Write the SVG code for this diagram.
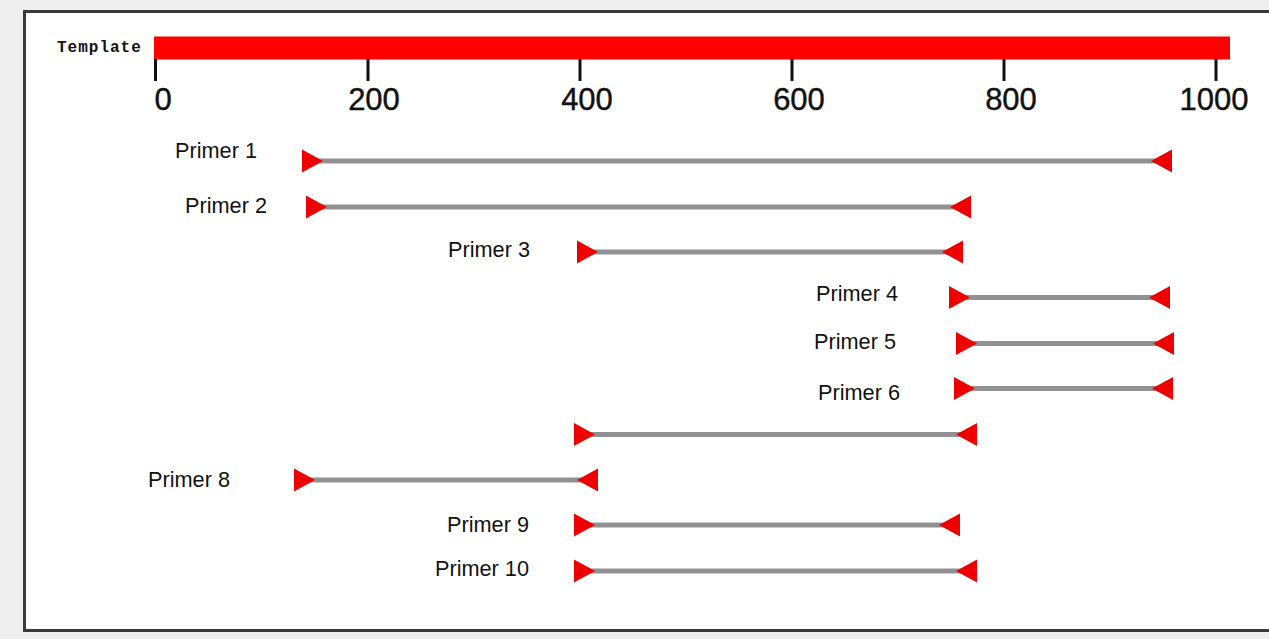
<svg xmlns="http://www.w3.org/2000/svg" xmlns:xlink="http://www.w3.org/1999/xlink" width="1269" height="639" viewBox="0 0 1269 639">
<defs>
<style>
.lbl{font-family:"Liberation Sans",Arial,sans-serif;font-size:21.7px;fill:#111;text-anchor:end}
.tick{font-family:"Liberation Sans",Arial,sans-serif;font-size:31px;fill:#111;text-anchor:middle;stroke:#111;stroke-width:0.4}
.tl{stroke:#111;stroke-width:3}
.pl{stroke:#919191;stroke-width:5}
.tri{fill:#ee0000}
</style>
<polygon id="fw" class="tri" points="0,-11.5 0,11.5 21,0"/>
<polygon id="rv" class="tri" points="0,-11.5 0,11.5 -21,0"/>
</defs>
<rect x="0" y="0" width="1269" height="639" fill="#efefef"/>
<rect x="24.5" y="11.5" width="1270" height="619" fill="#ffffff" stroke="#3a3a3a" stroke-width="3"/>
<g id="template">
<text x="57" y="52" font-family="Liberation Mono,monospace" font-size="16" font-weight="bold" letter-spacing="1" fill="#111">Template</text>
<rect x="154" y="36.5" width="1076" height="23" fill="#ff0000"/>
</g>
<g id="axis">
<line class="tl" x1="155.5" y1="59" x2="155.5" y2="81"/>
<line class="tl" x1="368" y1="59" x2="368" y2="81"/>
<line class="tl" x1="580" y1="59" x2="580" y2="81"/>
<line class="tl" x1="792" y1="59" x2="792" y2="81"/>
<line class="tl" x1="1004" y1="59" x2="1004" y2="81"/>
<line class="tl" x1="1216" y1="59" x2="1216" y2="81"/>
<text class="tick" x="163" y="110">0</text>
<text class="tick" x="374" y="110">200</text>
<text class="tick" x="587" y="110">400</text>
<text class="tick" x="799" y="110">600</text>
<text class="tick" x="1011" y="110">800</text>
<text class="tick" x="1214" y="110">1000</text>
</g>
<g id="connectors">
<line class="pl" x1="318" y1="161" x2="1156" y2="161"/>
<line class="pl" x1="322" y1="207" x2="955" y2="207"/>
<line class="pl" x1="593" y1="252" x2="947" y2="252"/>
<line class="pl" x1="965" y1="297.5" x2="1154" y2="297.5"/>
<line class="pl" x1="972" y1="343.5" x2="1158" y2="343.5"/>
<line class="pl" x1="970" y1="388.5" x2="1157" y2="388.5"/>
<line class="pl" x1="590" y1="434.5" x2="961" y2="434.5"/>
<line class="pl" x1="310" y1="480" x2="582" y2="480"/>
<line class="pl" x1="590" y1="525" x2="944" y2="525"/>
<line class="pl" x1="590" y1="571" x2="961" y2="571"/>
</g>
<g id="primer1"><text class="lbl" x="257" y="158">Primer 1</text><use xlink:href="#fw" x="302" y="161"/><use xlink:href="#rv" x="1172" y="161"/></g>
<g id="primer2"><text class="lbl" x="267" y="213">Primer 2</text><use xlink:href="#fw" x="306" y="207"/><use xlink:href="#rv" x="971" y="207"/></g>
<g id="primer3"><text class="lbl" x="530" y="257">Primer 3</text><use xlink:href="#fw" x="577" y="252"/><use xlink:href="#rv" x="963" y="252"/></g>
<g id="primer4"><text class="lbl" x="898" y="301">Primer 4</text><use xlink:href="#fw" x="949" y="297.5"/><use xlink:href="#rv" x="1170" y="297.5"/></g>
<g id="primer5"><text class="lbl" x="896" y="349">Primer 5</text><use xlink:href="#fw" x="956" y="343.5"/><use xlink:href="#rv" x="1174" y="343.5"/></g>
<g id="primer6"><text class="lbl" x="900" y="400">Primer 6</text><use xlink:href="#fw" x="954" y="388.5"/><use xlink:href="#rv" x="1173" y="388.5"/></g>
<g id="primer7"><use xlink:href="#fw" x="574" y="434.5"/><use xlink:href="#rv" x="977" y="434.5"/></g>
<g id="primer8"><text class="lbl" x="230" y="487">Primer 8</text><use xlink:href="#fw" x="294" y="480"/><use xlink:href="#rv" x="598" y="480"/></g>
<g id="primer9"><text class="lbl" x="529" y="532">Primer 9</text><use xlink:href="#fw" x="574" y="525"/><use xlink:href="#rv" x="960" y="525"/></g>
<g id="primer10"><text class="lbl" x="529" y="576">Primer 10</text><use xlink:href="#fw" x="574" y="571"/><use xlink:href="#rv" x="977" y="571"/></g>
</svg>
